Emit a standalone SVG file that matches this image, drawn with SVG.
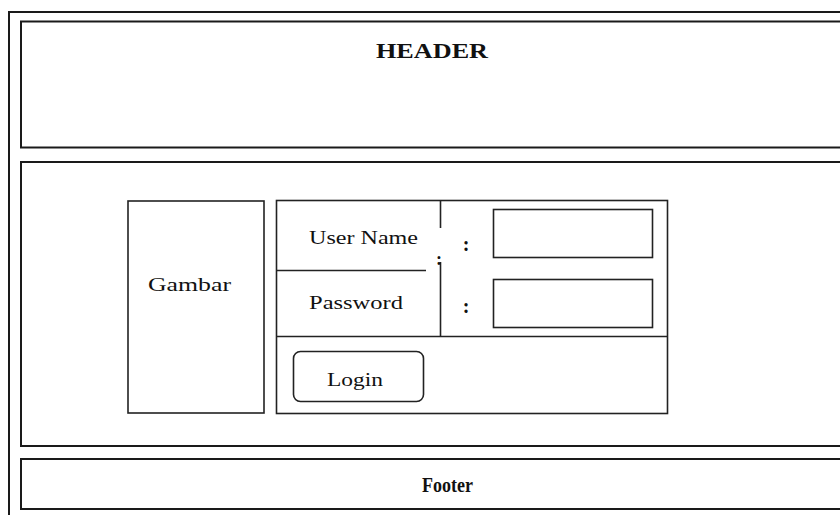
<svg xmlns="http://www.w3.org/2000/svg" width="840" height="515" viewBox="0 0 840 515">
<style>
.frame{fill:none;stroke:#1a1a1a;stroke-width:2}
.box{fill:none;stroke:#222;stroke-width:1.6}
.t{font-family:"Liberation Serif","Times New Roman",serif;fill:#111}
.b{font-weight:bold}
</style>
<rect x="0" y="0" width="840" height="515" fill="#fff"/>
<g id="outer"><rect class="frame" x="9" y="12" width="850" height="520"/></g>
<g id="header"><rect class="frame" x="21" y="21.5" width="840" height="126"/><text class="t b" x="376" y="58" font-size="22" textLength="112" lengthAdjust="spacingAndGlyphs">HEADER</text></g>
<g id="main"><rect class="frame" x="21" y="162" width="840" height="284"/></g>
<g id="gambar"><rect class="box" x="128" y="201" width="136" height="212"/><text class="t" x="148" y="291" font-size="19" textLength="83" lengthAdjust="spacingAndGlyphs">Gambar</text></g>
<g id="form"><rect class="box" x="276.5" y="200.5" width="391" height="213"/></g>
<g id="username"><text class="t" x="309" y="244" font-size="18" textLength="109" lengthAdjust="spacingAndGlyphs">User Name</text><text class="t b" x="466" y="251" font-size="20" text-anchor="middle">:</text><rect class="box" x="493.5" y="209.5" width="159" height="48"/></g>
<g id="password"><text class="t" x="309" y="309" font-size="18" textLength="94" lengthAdjust="spacingAndGlyphs">Password</text><text class="t b" x="466" y="313" font-size="20" text-anchor="middle">:</text><rect class="box" x="493.5" y="279.5" width="159" height="48"/></g>
<g id="login"><rect class="box" x="293.5" y="351.5" width="130" height="50" rx="7"/><text class="t" x="327" y="386" font-size="18" textLength="56" lengthAdjust="spacingAndGlyphs">Login</text></g>
<g id="connectors">
<line class="box" x1="440.5" y1="200" x2="440.5" y2="228"/>
<line class="box" x1="440.5" y1="262" x2="440.5" y2="336"/>
<line class="box" x1="276" y1="270.5" x2="426" y2="270.5"/>
<line class="box" x1="276" y1="336.5" x2="667" y2="336.5"/>
</g>
<text class="t b" x="439" y="265" font-size="18" text-anchor="middle">:</text>
<g id="footer"><rect class="frame" x="21" y="459" width="840" height="50"/><text class="t b" x="422" y="492" font-size="20" textLength="51" lengthAdjust="spacingAndGlyphs">Footer</text></g>
</svg>
